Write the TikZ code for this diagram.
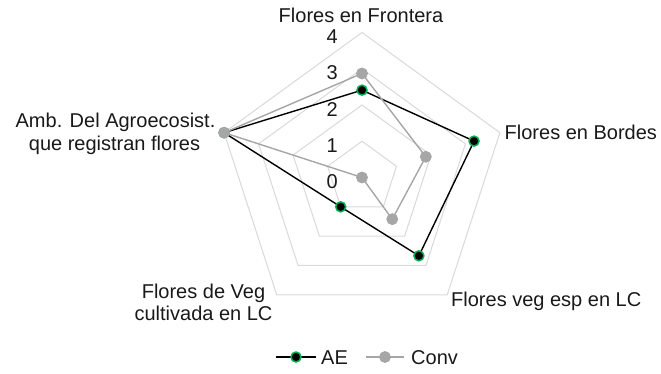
\documentclass[tikz,border=0pt]{standalone}
\usepackage{fontspec}
\setmainfont{Liberation Sans}
\usetikzlibrary{calc}
\definecolor{gridc}{RGB}{217,217,217}
\definecolor{convc}{RGB}{166,166,166}
\definecolor{aeg}{RGB}{0,176,80}
\begin{document}
\begin{tikzpicture}[x=1pt,y=1pt,
  gridline/.style={draw=gridc,line width=1pt},
  aeline/.style={draw=black,line width=1.4pt,line join=round},
  convline/.style={draw=convc,line width=1.4pt,line join=round},
  aemark/.style={circle,fill=black,draw=aeg,line width=1.5pt,minimum size=10pt,inner sep=0pt},
  convmark/.style={circle,fill=convc,draw=convc,line width=0.8pt,minimum size=11pt,inner sep=0pt},
  lbl/.style={font=\fontsize{20}{22}\selectfont,inner sep=0pt,text=black!90},
  tick/.style={font=\fontsize{20}{22}\selectfont,inner sep=0pt,text=black!90,anchor=base east}]
\useasboundingbox (0,0) rectangle (661,373);
\coordinate (C) at (362,195.5);
% grid pentagons
\foreach \k in {1,2,3,4}{
  \draw[gridline] ($(C)+(90:{36.25*\k})$) -- ($(C)+(18:{36.25*\k})$) -- ($(C)+(-54:{36.25*\k})$) -- ($(C)+(-126:{36.25*\k})$) -- ($(C)+(162:{36.25*\k})$) -- cycle;
}
% AE data points
\coordinate (a1) at ($(C)+(90:{36.25*2.41})$);
\coordinate (a2) at ($(C)+(18:{36.25*3.25})$);
\coordinate (a3) at ($(C)+(-54:{36.25*2.67})$);
\coordinate (a4) at ($(C)+(-126:{36.25*1.0})$);
\coordinate (a5) at ($(C)+(162:{36.25*4})$);
% Conv data points
\coordinate (c1) at ($(C)+(90:{36.25*2.87})$);
\coordinate (c2) at ($(C)+(18:{36.25*1.85})$);
\coordinate (c3) at ($(C)+(-54:{36.25*1.42})$);
\coordinate (c4) at (C);
\coordinate (c5) at ($(C)+(162:{36.25*4})$);
\draw[aeline] (a1) -- (a2) -- (a3) -- (a4) -- (a5) -- cycle;
\foreach \p in {a1,a2,a3,a4,a5} \node[aemark] (m\p) at (\p) {};
\draw[convline] (c1) -- (c2) -- (c3) -- (c4) -- (c5) -- cycle;
\foreach \p in {c1,c2,c3,c4,c5} \node[convmark] (m\p) at (\p) {};
% axis ticks
\node[tick] (t0) at (338,184.3) {0};
\node[tick] (t1) at (338,220.55) {1};
\node[tick] (t2) at (338,256.8) {2};
\node[tick] (t3) at (338,293.05) {3};
\node[tick] (t4) at (338,329.3) {4};
% category labels
\node[lbl,anchor=base] (lf) at (361,350.5) {Flores en Frontera};
\node[lbl,anchor=base west] (lb) at (504.5,233.7) {Flores en Bordes};
\node[lbl,anchor=base west] (lv) at (451,67) {Flores veg esp en LC};
\node[lbl,anchor=base] (lc1) at (203.5,74.7) {Flores de Veg};
\node[lbl,anchor=base] (lc2) at (203.5,53) {cultivada en LC};
\node[lbl,anchor=base] (la1) at (115.5,245.7) {Amb. Del Agroecosist.};
\node[lbl,anchor=base] (la2) at (114.5,223) {que registran flores};
% legend
\coordinate (le1) at (276,16);
\coordinate (le2) at (316,16);
\draw[aeline] (le1) -- (le2);
\node[aemark] (lem) at (296,16) {};
\node[lbl,anchor=base west] (leA) at (321,8.7) {AE};
\coordinate (lc1s) at (366,16);
\coordinate (lc2s) at (404,16);
\draw[convline] (lc1s) -- (lc2s);
\node[convmark] (lcm) at (385,16) {};
\node[lbl,anchor=base west] (leC) at (411,8.7) {Conv};
\end{tikzpicture}
\end{document}
